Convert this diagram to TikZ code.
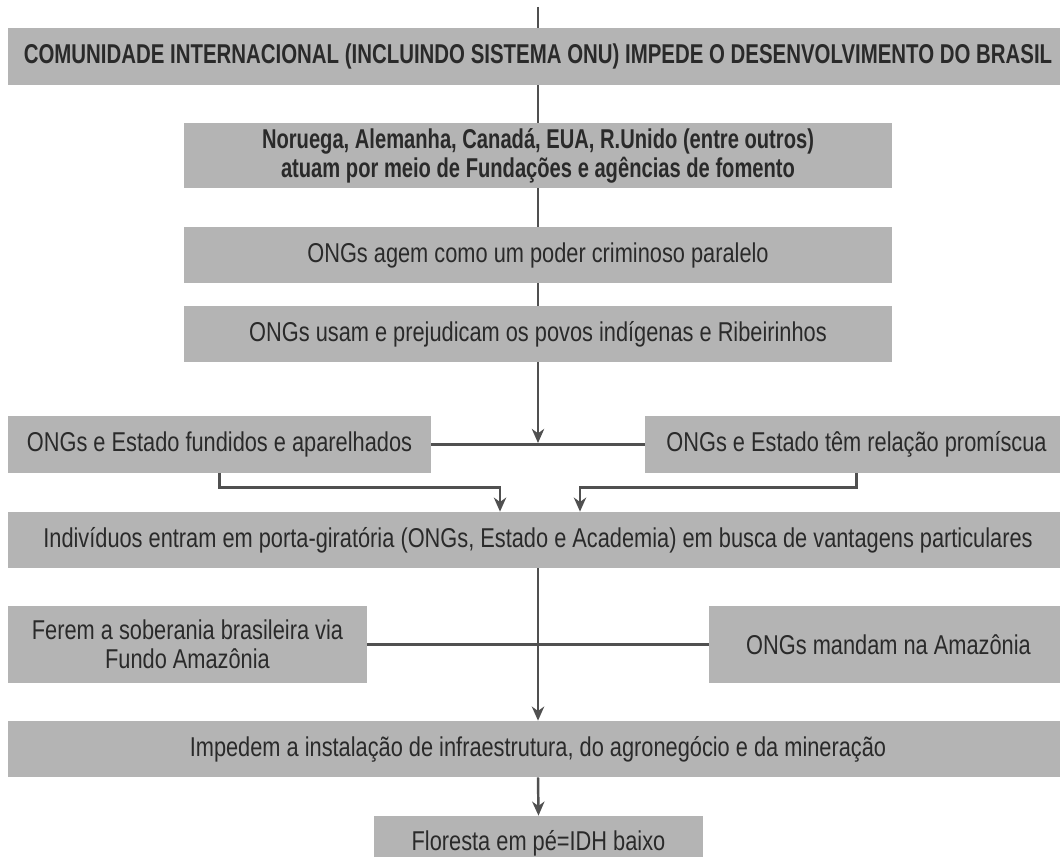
\documentclass[tikz,border=0pt]{standalone}
\usepackage{fontspec}
\setmainfont{Liberation Sans}[FakeStretch=0.80, BoldFeatures={FakeStretch=0.74}]
\newfontfamily\capsfont{Liberation Sans}[FakeStretch=0.75, BoldFeatures={FakeStretch=0.75}]
\usetikzlibrary{arrows.meta}

\definecolor{boxgray}{HTML}{B4B4B4}
\definecolor{inkgray}{HTML}{2A2A2A}
\definecolor{wiregray}{HTML}{505050}

\newcommand{\boxfont}{\fontsize{15.5pt}{16.5pt}\selectfont}

\tikzset{
  flowbox/.style={fill=boxgray, text=inkgray, inner sep=0pt, align=center, font=\boxfont},
  wire/.style={draw=wiregray, line width=1.4pt},
  flow/.style={wire, -{Stealth[length=8pt, width=7pt, inset=2.5pt]}}
}

\begin{document}
\begin{tikzpicture}[x=0.02cm, y=-0.02cm]
    \useasboundingbox (0,0) rectangle (1060,857);
    % main column
    \node [flowbox, minimum width=21.2cm, minimum height=1.14cm, font={\boxfont\bfseries}] (intl) at (538,56.5)
        {{\capsfont COMUNIDADE INTERNACIONAL (INCLUINDO SISTEMA ONU) IMPEDE O DESENVOLVIMENTO DO BRASIL}};
    \node [flowbox, minimum width=14.16cm, minimum height=1.3cm, font={\boxfont\bfseries}] (donors) at (538,155.5)
        {Noruega, Alemanha, Canadá, EUA, R.Unido (entre outros)\\atuam por meio de Fundações e agências de fomento};
    \node [flowbox, minimum width=14.16cm, minimum height=1.12cm] (crime) at (538,255)
        {ONGs agem como um poder criminoso paralelo};
    \node [flowbox, minimum width=14.16cm, minimum height=1.12cm] (usam) at (538,334)
        {ONGs usam e prejudicam os povos indígenas e Ribeirinhos};
    \node [flowbox, minimum width=8.46cm, minimum height=1.14cm] (fundidos) at (219.5,444.5)
        {ONGs e Estado fundidos e aparelhados};
    \node [flowbox, minimum width=8.46cm, minimum height=1.14cm] (promiscua) at (856.5,444.5)
        {ONGs e Estado têm relação promíscua};
    \node [flowbox, minimum width=21.2cm, minimum height=1.12cm] (porta) at (538,540)
        {Indivíduos entram em porta-giratória (ONGs, Estado e Academia) em busca de vantagens particulares};
    \node [flowbox, minimum width=7.18cm, minimum height=1.54cm] (ferem) at (187.5,644.5)
        {Ferem a soberania brasileira via\\Fundo Amazônia};
    \node [flowbox, minimum width=7.18cm, minimum height=1.54cm] (mandam) at (888.5,644.5)
        {ONGs mandam na Amazônia};
    \node [flowbox, minimum width=21.2cm, minimum height=1.12cm] (impedem) at (538,749)
        {Impedem a instalação de infraestrutura, do agronegócio e da mineração};
    \node [flowbox, minimum width=6.6cm, minimum height=1.1cm] (floresta) at (538.5,843.5)
        {Floresta em pé=IDH baixo};

    % connectors
    \coordinate (topend) at (538,7);
    \coordinate (meet) at (538,443);
    \draw [wire] (topend) -- (intl.north);
    \draw [wire] (intl.south) -- (donors.north);
    \draw [wire] (donors.south) -- (crime.north);
    \draw [wire] (crime.south) -- (usam.north);
    \draw [flow] (usam.south) -- (meet);
    \draw [wire] (fundidos.east) -- (promiscua.west);
    \draw [flow] (fundidos.south) -- ++(0,14) -| ([xshift=-0.76cm]porta.north);
    \draw [flow] (promiscua.south) -- ++(0,14) -| ([xshift=0.84cm]porta.north);
    \draw [wire] (ferem.east) -- (mandam.west);
    \draw [flow] (porta.south) -- (impedem.north);
    \draw [flow] (impedem.south) -- (floresta.north);
\end{tikzpicture}
\end{document}
